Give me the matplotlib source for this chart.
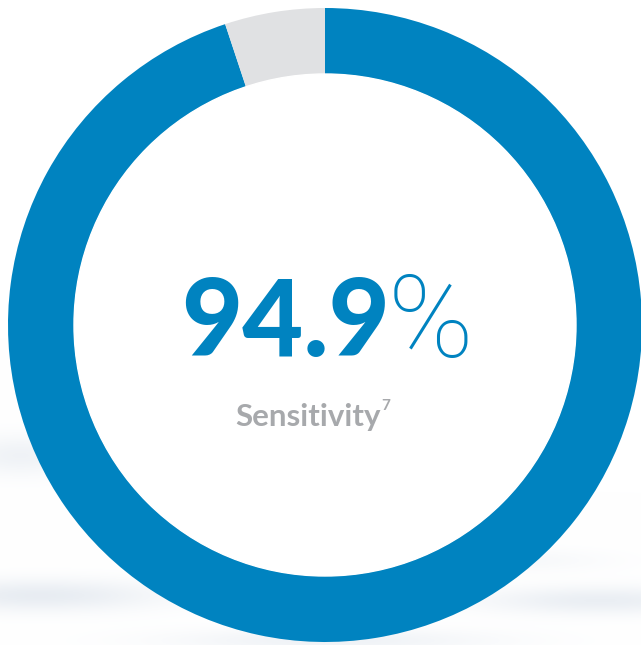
import numpy as np
import matplotlib
matplotlib.use("Agg")
from matplotlib import pyplot as plt

# chart values
labels = ["Sensitivity", "Rest"]
values = [94.9, 5.1]
colors = ["#0083c0", "#e0e1e3"]
big_number = "94.9"
caption = "Sensitivity"
footnote = "7"

W, H = 641, 645


def soft_background():
    # faint blurred streaks along the bottom of the picture
    yy, xx = np.mgrid[0:H, 0:W]
    img = np.zeros((H, W))
    blobs = [(20, 455, 60, 20, 0.3), (40, 595, 120, 16, 0.45),
             (600, 600, 120, 14, 0.4), (330, 640, 160, 12, 0.3),
             (520, 560, 90, 12, 0.15)]
    for cx, cy, sx, sy, a in blobs:
        img += a * np.exp(-((xx - cx) / sx) ** 2 - ((yy - cy) / sy) ** 2)
    img = np.clip(img, 0, 1)
    base = np.array([1.0, 1.0, 1.0])
    tint = np.array([0.80, 0.84, 0.89])
    return base + (tint - base) * img[..., None]


fig = plt.figure(figsize=(W / 100, H / 100), dpi=100)
ax = fig.add_axes([0, 0, 1, 1])
ax.imshow(soft_background(), extent=[0, W, 0, H], origin="upper", zorder=0)

cx, cy, r = 325, H - 325, 317
ax.pie(values, colors=colors, startangle=90, counterclock=False,
       center=(cx, cy), radius=r, frame=True,
       wedgeprops=dict(width=66, edgecolor="none", linewidth=0))
ax.add_patch(plt.Circle((cx, cy), r - 66, color="white", zorder=3))

ax.set_xlim(0, W)
ax.set_ylim(0, H)
ax.set_aspect("equal")
ax.axis("off")

ax.text(390, H - 356, big_number, ha="right", va="baseline",
        fontsize=76, fontweight="black", family="Lato", color="#0083c0", zorder=5)
ax.text(388, H - 357, "%", ha="left", va="baseline",
        fontsize=83, fontweight="light", family="Roboto", color="#0083c0", zorder=5)
ax.text(381, H - 426, caption, ha="right", va="baseline",
        fontsize=22.5, fontweight="bold", family="Lato", color="#a7a9ac", zorder=5)
ax.text(381, H - 410, footnote, ha="left", va="baseline",
        fontsize=11, fontweight="bold", family="Lato", color="#a7a9ac", zorder=5)

fig.savefig("out.png", dpi=100)
